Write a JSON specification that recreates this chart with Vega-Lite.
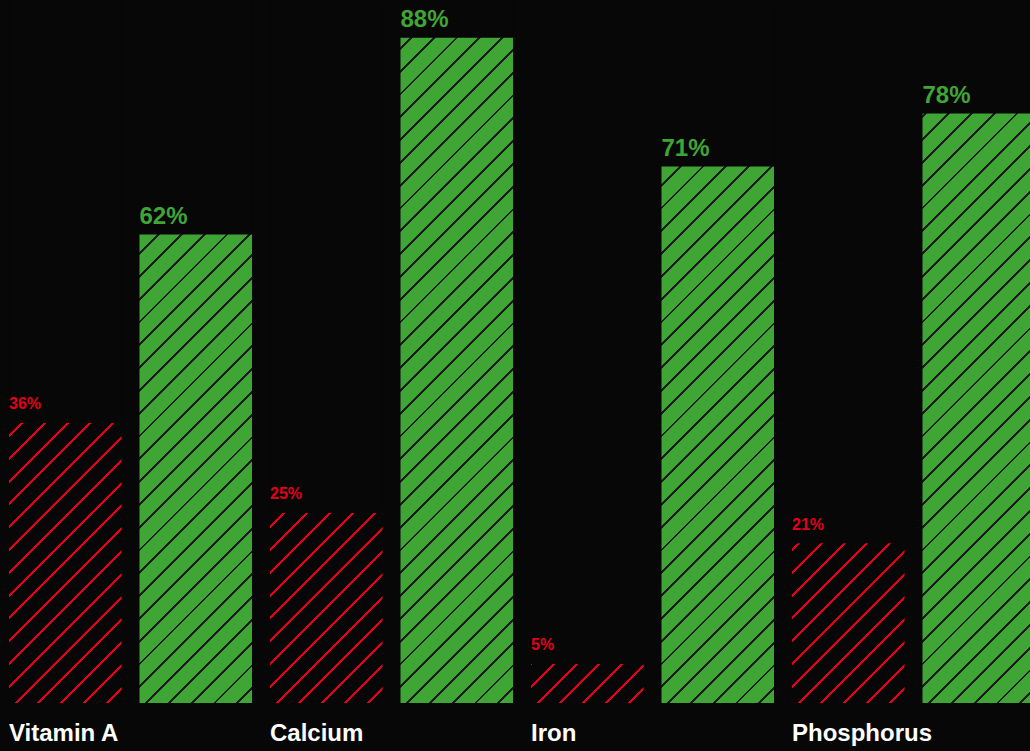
{
  "$schema": "https://vega.github.io/schema/vega-lite/v6.json",
  "width": 1030,
  "height": 703,
  "autosize": {"type": "none"},
  "padding": {"left": 0, "top": 0, "right": 0, "bottom": 48},
  "background": "#070707",
  "config": {"view": {"stroke": null}, "font": "Liberation Sans"},
  "data": {
    "values": [
      {"nutrient": "Vitamin A", "type": "low", "value": 37.1, "label": "36%"},
      {"nutrient": "Vitamin A", "type": "high", "value": 62, "label": "62%"},
      {"nutrient": "Calcium", "type": "low", "value": 25.2, "label": "25%"},
      {"nutrient": "Calcium", "type": "high", "value": 88, "label": "88%"},
      {"nutrient": "Iron", "type": "low", "value": 5.25, "label": "5%"},
      {"nutrient": "Iron", "type": "high", "value": 71, "label": "71%"},
      {"nutrient": "Phosphorus", "type": "low", "value": 21.2, "label": "21%"},
      {"nutrient": "Phosphorus", "type": "high", "value": 78, "label": "78%"}
    ]
  },
  "encoding": {
    "x": {
      "field": "nutrient",
      "type": "nominal",
      "sort": ["Vitamin A", "Calcium", "Iron", "Phosphorus"],
      "scale": {"range": [0, 1044], "paddingInner": 0.06897, "paddingOuter": 0.03448},
      "axis": {
        "title": null,
        "domain": false,
        "ticks": false,
        "grid": false,
        "labelAlign": "left",
        "labelOffset": -121.5,
        "labelAngle": 0,
        "labelFontSize": 24,
        "labelFontWeight": "bold",
        "labelColor": "#ffffff",
        "labelPadding": 18,
        "labelFont": "Liberation Sans",
        "labelFlush": false,
        "labelOverlap": false,
        "labelBound": false
      }
    },
    "xOffset": {
      "field": "type",
      "type": "nominal",
      "sort": ["low", "high"],
      "scale": {"paddingInner": 0.13793, "paddingOuter": 0}
    }
  },
  "layer": [
    {
      "transform": [{"filter": "datum.type === 'low'"}],
      "mark": {
        "type": "bar",
        "clip": true,
        "fill": {
          "gradient": "linear",
          "x1": 0, "y1": 0, "x2": 0.2249, "y2": 1.3314,
          "stops": [
            {"offset": 0.0109, "color": "#070707"}, {"offset": 0.0109, "color": "#e2001a"}, {"offset": 0.0141, "color": "#e2001a"}, {"offset": 0.0141, "color": "#070707"},
            {"offset": 0.0359, "color": "#070707"}, {"offset": 0.0359, "color": "#e2001a"}, {"offset": 0.0391, "color": "#e2001a"}, {"offset": 0.0391, "color": "#070707"},
            {"offset": 0.0609, "color": "#070707"}, {"offset": 0.0609, "color": "#e2001a"}, {"offset": 0.0641, "color": "#e2001a"}, {"offset": 0.0641, "color": "#070707"},
            {"offset": 0.0859, "color": "#070707"}, {"offset": 0.0859, "color": "#e2001a"}, {"offset": 0.0891, "color": "#e2001a"}, {"offset": 0.0891, "color": "#070707"},
            {"offset": 0.1109, "color": "#070707"}, {"offset": 0.1109, "color": "#e2001a"}, {"offset": 0.1141, "color": "#e2001a"}, {"offset": 0.1141, "color": "#070707"},
            {"offset": 0.1359, "color": "#070707"}, {"offset": 0.1359, "color": "#e2001a"}, {"offset": 0.1391, "color": "#e2001a"}, {"offset": 0.1391, "color": "#070707"},
            {"offset": 0.1609, "color": "#070707"}, {"offset": 0.1609, "color": "#e2001a"}, {"offset": 0.1641, "color": "#e2001a"}, {"offset": 0.1641, "color": "#070707"},
            {"offset": 0.1859, "color": "#070707"}, {"offset": 0.1859, "color": "#e2001a"}, {"offset": 0.1891, "color": "#e2001a"}, {"offset": 0.1891, "color": "#070707"},
            {"offset": 0.2109, "color": "#070707"}, {"offset": 0.2109, "color": "#e2001a"}, {"offset": 0.2141, "color": "#e2001a"}, {"offset": 0.2141, "color": "#070707"},
            {"offset": 0.2359, "color": "#070707"}, {"offset": 0.2359, "color": "#e2001a"}, {"offset": 0.2391, "color": "#e2001a"}, {"offset": 0.2391, "color": "#070707"},
            {"offset": 0.2609, "color": "#070707"}, {"offset": 0.2609, "color": "#e2001a"}, {"offset": 0.2641, "color": "#e2001a"}, {"offset": 0.2641, "color": "#070707"},
            {"offset": 0.2859, "color": "#070707"}, {"offset": 0.2859, "color": "#e2001a"}, {"offset": 0.2891, "color": "#e2001a"}, {"offset": 0.2891, "color": "#070707"},
            {"offset": 0.3109, "color": "#070707"}, {"offset": 0.3109, "color": "#e2001a"}, {"offset": 0.3141, "color": "#e2001a"}, {"offset": 0.3141, "color": "#070707"},
            {"offset": 0.3359, "color": "#070707"}, {"offset": 0.3359, "color": "#e2001a"}, {"offset": 0.3391, "color": "#e2001a"}, {"offset": 0.3391, "color": "#070707"},
            {"offset": 0.3609, "color": "#070707"}, {"offset": 0.3609, "color": "#e2001a"}, {"offset": 0.3641, "color": "#e2001a"}, {"offset": 0.3641, "color": "#070707"},
            {"offset": 0.3859, "color": "#070707"}, {"offset": 0.3859, "color": "#e2001a"}, {"offset": 0.3891, "color": "#e2001a"}, {"offset": 0.3891, "color": "#070707"},
            {"offset": 0.4109, "color": "#070707"}, {"offset": 0.4109, "color": "#e2001a"}, {"offset": 0.4141, "color": "#e2001a"}, {"offset": 0.4141, "color": "#070707"},
            {"offset": 0.4359, "color": "#070707"}, {"offset": 0.4359, "color": "#e2001a"}, {"offset": 0.4391, "color": "#e2001a"}, {"offset": 0.4391, "color": "#070707"},
            {"offset": 0.4609, "color": "#070707"}, {"offset": 0.4609, "color": "#e2001a"}, {"offset": 0.4641, "color": "#e2001a"}, {"offset": 0.4641, "color": "#070707"},
            {"offset": 0.4859, "color": "#070707"}, {"offset": 0.4859, "color": "#e2001a"}, {"offset": 0.4891, "color": "#e2001a"}, {"offset": 0.4891, "color": "#070707"},
            {"offset": 0.5109, "color": "#070707"}, {"offset": 0.5109, "color": "#e2001a"}, {"offset": 0.5141, "color": "#e2001a"}, {"offset": 0.5141, "color": "#070707"},
            {"offset": 0.5359, "color": "#070707"}, {"offset": 0.5359, "color": "#e2001a"}, {"offset": 0.5391, "color": "#e2001a"}, {"offset": 0.5391, "color": "#070707"},
            {"offset": 0.5609, "color": "#070707"}, {"offset": 0.5609, "color": "#e2001a"}, {"offset": 0.5641, "color": "#e2001a"}, {"offset": 0.5641, "color": "#070707"},
            {"offset": 0.5859, "color": "#070707"}, {"offset": 0.5859, "color": "#e2001a"}, {"offset": 0.5891, "color": "#e2001a"}, {"offset": 0.5891, "color": "#070707"},
            {"offset": 0.6109, "color": "#070707"}, {"offset": 0.6109, "color": "#e2001a"}, {"offset": 0.6141, "color": "#e2001a"}, {"offset": 0.6141, "color": "#070707"},
            {"offset": 0.6359, "color": "#070707"}, {"offset": 0.6359, "color": "#e2001a"}, {"offset": 0.6391, "color": "#e2001a"}, {"offset": 0.6391, "color": "#070707"},
            {"offset": 0.6609, "color": "#070707"}, {"offset": 0.6609, "color": "#e2001a"}, {"offset": 0.6641, "color": "#e2001a"}, {"offset": 0.6641, "color": "#070707"},
            {"offset": 0.6859, "color": "#070707"}, {"offset": 0.6859, "color": "#e2001a"}, {"offset": 0.6891, "color": "#e2001a"}, {"offset": 0.6891, "color": "#070707"},
            {"offset": 0.7109, "color": "#070707"}, {"offset": 0.7109, "color": "#e2001a"}, {"offset": 0.7141, "color": "#e2001a"}, {"offset": 0.7141, "color": "#070707"},
            {"offset": 0.7359, "color": "#070707"}, {"offset": 0.7359, "color": "#e2001a"}, {"offset": 0.7391, "color": "#e2001a"}, {"offset": 0.7391, "color": "#070707"},
            {"offset": 0.7609, "color": "#070707"}, {"offset": 0.7609, "color": "#e2001a"}, {"offset": 0.7641, "color": "#e2001a"}, {"offset": 0.7641, "color": "#070707"},
            {"offset": 0.7859, "color": "#070707"}, {"offset": 0.7859, "color": "#e2001a"}, {"offset": 0.7891, "color": "#e2001a"}, {"offset": 0.7891, "color": "#070707"},
            {"offset": 0.8109, "color": "#070707"}, {"offset": 0.8109, "color": "#e2001a"}, {"offset": 0.8141, "color": "#e2001a"}, {"offset": 0.8141, "color": "#070707"},
            {"offset": 0.8359, "color": "#070707"}, {"offset": 0.8359, "color": "#e2001a"}, {"offset": 0.8391, "color": "#e2001a"}, {"offset": 0.8391, "color": "#070707"}
          ]
        }
      },
      "encoding": {
        "y": {"datum": 88, "type": "quantitative", "scale": {"domain": [0, 92.89], "nice": false, "zero": true}, "axis": null},
        "y2": {"datum": 0}
      }
    },
    {
      "transform": [{"filter": "datum.type === 'high'"}],
      "mark": {
        "type": "bar",
        "clip": true,
        "fill": {
          "gradient": "linear",
          "x1": 0, "y1": 0, "x2": 0.2249, "y2": 1.3314,
          "stops": [
            {"offset": 0.0110, "color": "#3fa535"}, {"offset": 0.0110, "color": "#1c1c1c"}, {"offset": 0.0140, "color": "#1c1c1c"}, {"offset": 0.0140, "color": "#3fa535"},
            {"offset": 0.0360, "color": "#3fa535"}, {"offset": 0.0360, "color": "#1c1c1c"}, {"offset": 0.0390, "color": "#1c1c1c"}, {"offset": 0.0390, "color": "#3fa535"},
            {"offset": 0.0610, "color": "#3fa535"}, {"offset": 0.0610, "color": "#1c1c1c"}, {"offset": 0.0640, "color": "#1c1c1c"}, {"offset": 0.0640, "color": "#3fa535"},
            {"offset": 0.0860, "color": "#3fa535"}, {"offset": 0.0860, "color": "#1c1c1c"}, {"offset": 0.0890, "color": "#1c1c1c"}, {"offset": 0.0890, "color": "#3fa535"},
            {"offset": 0.1110, "color": "#3fa535"}, {"offset": 0.1110, "color": "#1c1c1c"}, {"offset": 0.1140, "color": "#1c1c1c"}, {"offset": 0.1140, "color": "#3fa535"},
            {"offset": 0.1360, "color": "#3fa535"}, {"offset": 0.1360, "color": "#1c1c1c"}, {"offset": 0.1390, "color": "#1c1c1c"}, {"offset": 0.1390, "color": "#3fa535"},
            {"offset": 0.1610, "color": "#3fa535"}, {"offset": 0.1610, "color": "#1c1c1c"}, {"offset": 0.1640, "color": "#1c1c1c"}, {"offset": 0.1640, "color": "#3fa535"},
            {"offset": 0.1860, "color": "#3fa535"}, {"offset": 0.1860, "color": "#1c1c1c"}, {"offset": 0.1890, "color": "#1c1c1c"}, {"offset": 0.1890, "color": "#3fa535"},
            {"offset": 0.2110, "color": "#3fa535"}, {"offset": 0.2110, "color": "#1c1c1c"}, {"offset": 0.2140, "color": "#1c1c1c"}, {"offset": 0.2140, "color": "#3fa535"},
            {"offset": 0.2360, "color": "#3fa535"}, {"offset": 0.2360, "color": "#1c1c1c"}, {"offset": 0.2390, "color": "#1c1c1c"}, {"offset": 0.2390, "color": "#3fa535"},
            {"offset": 0.2610, "color": "#3fa535"}, {"offset": 0.2610, "color": "#1c1c1c"}, {"offset": 0.2640, "color": "#1c1c1c"}, {"offset": 0.2640, "color": "#3fa535"},
            {"offset": 0.2860, "color": "#3fa535"}, {"offset": 0.2860, "color": "#1c1c1c"}, {"offset": 0.2890, "color": "#1c1c1c"}, {"offset": 0.2890, "color": "#3fa535"},
            {"offset": 0.3110, "color": "#3fa535"}, {"offset": 0.3110, "color": "#1c1c1c"}, {"offset": 0.3140, "color": "#1c1c1c"}, {"offset": 0.3140, "color": "#3fa535"},
            {"offset": 0.3360, "color": "#3fa535"}, {"offset": 0.3360, "color": "#1c1c1c"}, {"offset": 0.3390, "color": "#1c1c1c"}, {"offset": 0.3390, "color": "#3fa535"},
            {"offset": 0.3610, "color": "#3fa535"}, {"offset": 0.3610, "color": "#1c1c1c"}, {"offset": 0.3640, "color": "#1c1c1c"}, {"offset": 0.3640, "color": "#3fa535"},
            {"offset": 0.3860, "color": "#3fa535"}, {"offset": 0.3860, "color": "#1c1c1c"}, {"offset": 0.3890, "color": "#1c1c1c"}, {"offset": 0.3890, "color": "#3fa535"},
            {"offset": 0.4110, "color": "#3fa535"}, {"offset": 0.4110, "color": "#1c1c1c"}, {"offset": 0.4140, "color": "#1c1c1c"}, {"offset": 0.4140, "color": "#3fa535"},
            {"offset": 0.4360, "color": "#3fa535"}, {"offset": 0.4360, "color": "#1c1c1c"}, {"offset": 0.4390, "color": "#1c1c1c"}, {"offset": 0.4390, "color": "#3fa535"},
            {"offset": 0.4610, "color": "#3fa535"}, {"offset": 0.4610, "color": "#1c1c1c"}, {"offset": 0.4640, "color": "#1c1c1c"}, {"offset": 0.4640, "color": "#3fa535"},
            {"offset": 0.4860, "color": "#3fa535"}, {"offset": 0.4860, "color": "#1c1c1c"}, {"offset": 0.4890, "color": "#1c1c1c"}, {"offset": 0.4890, "color": "#3fa535"},
            {"offset": 0.5110, "color": "#3fa535"}, {"offset": 0.5110, "color": "#1c1c1c"}, {"offset": 0.5140, "color": "#1c1c1c"}, {"offset": 0.5140, "color": "#3fa535"},
            {"offset": 0.5360, "color": "#3fa535"}, {"offset": 0.5360, "color": "#1c1c1c"}, {"offset": 0.5390, "color": "#1c1c1c"}, {"offset": 0.5390, "color": "#3fa535"},
            {"offset": 0.5610, "color": "#3fa535"}, {"offset": 0.5610, "color": "#1c1c1c"}, {"offset": 0.5640, "color": "#1c1c1c"}, {"offset": 0.5640, "color": "#3fa535"},
            {"offset": 0.5860, "color": "#3fa535"}, {"offset": 0.5860, "color": "#1c1c1c"}, {"offset": 0.5890, "color": "#1c1c1c"}, {"offset": 0.5890, "color": "#3fa535"},
            {"offset": 0.6110, "color": "#3fa535"}, {"offset": 0.6110, "color": "#1c1c1c"}, {"offset": 0.6140, "color": "#1c1c1c"}, {"offset": 0.6140, "color": "#3fa535"},
            {"offset": 0.6360, "color": "#3fa535"}, {"offset": 0.6360, "color": "#1c1c1c"}, {"offset": 0.6390, "color": "#1c1c1c"}, {"offset": 0.6390, "color": "#3fa535"},
            {"offset": 0.6610, "color": "#3fa535"}, {"offset": 0.6610, "color": "#1c1c1c"}, {"offset": 0.6640, "color": "#1c1c1c"}, {"offset": 0.6640, "color": "#3fa535"},
            {"offset": 0.6860, "color": "#3fa535"}, {"offset": 0.6860, "color": "#1c1c1c"}, {"offset": 0.6890, "color": "#1c1c1c"}, {"offset": 0.6890, "color": "#3fa535"},
            {"offset": 0.7110, "color": "#3fa535"}, {"offset": 0.7110, "color": "#1c1c1c"}, {"offset": 0.7140, "color": "#1c1c1c"}, {"offset": 0.7140, "color": "#3fa535"},
            {"offset": 0.7360, "color": "#3fa535"}, {"offset": 0.7360, "color": "#1c1c1c"}, {"offset": 0.7390, "color": "#1c1c1c"}, {"offset": 0.7390, "color": "#3fa535"},
            {"offset": 0.7610, "color": "#3fa535"}, {"offset": 0.7610, "color": "#1c1c1c"}, {"offset": 0.7640, "color": "#1c1c1c"}, {"offset": 0.7640, "color": "#3fa535"},
            {"offset": 0.7860, "color": "#3fa535"}, {"offset": 0.7860, "color": "#1c1c1c"}, {"offset": 0.7890, "color": "#1c1c1c"}, {"offset": 0.7890, "color": "#3fa535"},
            {"offset": 0.8110, "color": "#3fa535"}, {"offset": 0.8110, "color": "#1c1c1c"}, {"offset": 0.8140, "color": "#1c1c1c"}, {"offset": 0.8140, "color": "#3fa535"},
            {"offset": 0.8360, "color": "#3fa535"}, {"offset": 0.8360, "color": "#1c1c1c"}, {"offset": 0.8390, "color": "#1c1c1c"}, {"offset": 0.8390, "color": "#3fa535"}
          ]
        }
      },
      "encoding": {
        "y": {"datum": 88, "type": "quantitative", "scale": {"domain": [0, 92.89], "nice": false, "zero": true}, "axis": null},
        "y2": {"datum": 0}
      }
    },
    {
      "mark": {"type": "bar", "clip": true, "fill": "#070707", "stroke": "#070707", "strokeWidth": 1.5},
      "encoding": {
        "y": {"field": "value", "type": "quantitative", "scale": {"domain": [0, 92.89], "nice": false, "zero": true}, "axis": null},
        "y2": {"datum": 92.89}
      }
    },
    {
      "transform": [{"filter": "datum.type === 'low'"}],
      "mark": {"type": "text", "align": "left", "baseline": "alphabetic", "dx": -56.25, "dy": -13, "fontSize": 16, "fontWeight": "bold", "font": "Liberation Sans", "color": "#e2001a"},
      "encoding": {
        "y": {"field": "value", "type": "quantitative", "scale": {"domain": [0, 92.89], "nice": false, "zero": true}, "axis": null},
        "text": {"field": "label"}
      }
    },
    {
      "transform": [{"filter": "datum.type === 'high'"}],
      "mark": {"type": "text", "align": "left", "baseline": "alphabetic", "dx": -56.25, "dy": -10, "fontSize": 24, "fontWeight": "bold", "font": "Liberation Sans", "color": "#3fa535"},
      "encoding": {
        "y": {"field": "value", "type": "quantitative", "scale": {"domain": [0, 92.89], "nice": false, "zero": true}, "axis": null},
        "text": {"field": "label"}
      }
    }
  ]
}
